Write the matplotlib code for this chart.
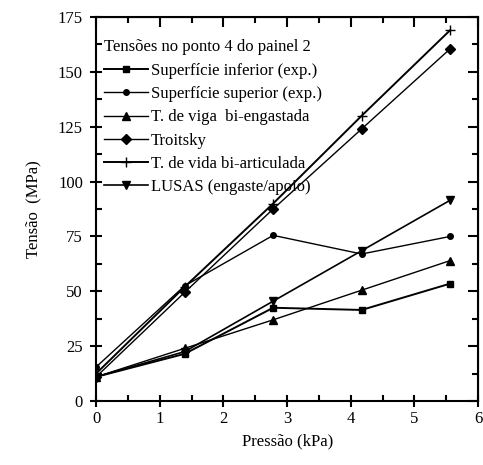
import matplotlib
matplotlib.use('Agg')
from matplotlib import pyplot as plt
from matplotlib.ticker import MultipleLocator

pressao = [0, 1.39, 2.78, 4.17, 5.56]

sup_inferior = [11, 21.5, 42.5, 41.5, 53.5]
sup_superior = [15.5, 52.5, 75.5, 67, 75]
viga_engastada = [11, 24, 37, 50.5, 64]
troitsky = [11, 49.5, 87.5, 124, 160.5]
vida_articulada = [12.5, 52, 90, 130, 169]
lusas = [11, 22.5, 45.5, 68.5, 91.5]

labels = ['Superfície inferior (exp.)', 'Superfície superior (exp.)',
          'T. de viga  bi-engastada', 'Troitsky',
          'T. de vida bi-articulada', 'LUSAS (engaste/apoio)']

plt.rcParams['font.family'] = ['Liberation Serif', 'DejaVu Serif']
plt.rcParams['font.size'] = 12

fig = plt.figure(figsize=(4.83, 4.65), dpi=100)
ax = fig.add_axes([0.199, 0.1376, 0.791, 0.8258])

ax.plot(pressao, sup_inferior, color='black', lw=1.4, marker='s', ms=5, label=labels[0])
ax.plot(pressao, sup_superior, color='black', lw=1.0, marker='o', ms=4, label=labels[1])
ax.plot(pressao, viga_engastada, color='black', lw=1.0, marker='^', ms=6, label=labels[2])
ax.plot(pressao, troitsky, color='black', lw=1.0, marker='D', ms=5, label=labels[3])
ax.plot(pressao, vida_articulada, color='black', lw=1.4, marker='+', ms=7, mew=1.0, label=labels[4])
ax.plot(pressao, lusas, color='black', lw=1.2, marker='v', ms=6, label=labels[5])

ax.set_xlim(0, 6)
ax.set_ylim(0, 175)
ax.xaxis.set_major_locator(MultipleLocator(1))
ax.xaxis.set_minor_locator(MultipleLocator(0.5))
ax.yaxis.set_major_locator(MultipleLocator(25))
ax.yaxis.set_minor_locator(MultipleLocator(12.5))

for s in ax.spines.values():
    s.set_linewidth(1.5)

ax.tick_params(which='major', direction='inout', length=9, width=1.5,
               top=False, right=False)
ax.tick_params(which='minor', direction='in', length=4, width=1.5,
               top=False, right=False)
ax.tick_params(axis='x', which='major', labelsize=12, pad=3)
ax.tick_params(axis='y', which='major', labelsize=12, pad=5)

# ticks on top/right pointing inward
axt = ax.secondary_xaxis('top')
axt.xaxis.set_major_locator(MultipleLocator(1))
axt.xaxis.set_minor_locator(MultipleLocator(0.5))
axt.tick_params(which='major', direction='in', length=7, width=1.5, labeltop=False)
axt.tick_params(which='minor', direction='in', length=4, width=1.5)
axr = ax.secondary_yaxis('right')
axr.yaxis.set_major_locator(MultipleLocator(25))
axr.yaxis.set_minor_locator(MultipleLocator(12.5))
axr.tick_params(which='major', direction='in', length=7, width=1.5, labelright=False)
axr.tick_params(which='minor', direction='in', length=4, width=1.5)

ax.set_xlabel('Pressão (kPa)', fontsize=12, labelpad=4)
ax.set_ylabel('Tensão  (MPa)', fontsize=12, labelpad=12)

leg = ax.legend(title='Tensões no ponto 4 do painel 2', loc='upper left',
                bbox_to_anchor=(0, 0.965),
                frameon=False, fontsize=12, title_fontsize=12,
                handlelength=2.6, handletextpad=0.2, labelspacing=0.43,
                borderaxespad=0.2, borderpad=0.3)
leg._legend_box.align = 'left'
leg._legend_box.sep = 6

fig.savefig('out.png', dpi=100)
